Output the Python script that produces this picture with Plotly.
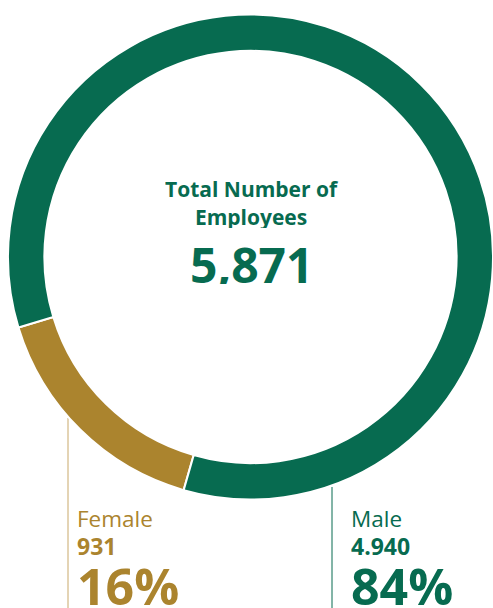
import plotly.graph_objects as go

# Workforce split by gender
labels = ["Female", "Male"]
values = [931, 4940]
value_text = ["931", "4.940"]
colors = ["#AB842E", "#076B50"]
line_colors = ["#C9A96A", "#076B50"]

W, H = 493, 608
FONT = "Open Sans"

total = sum(values)
shares = [round(v / total * 100) for v in values]

fig = go.Figure()
fig.add_trace(go.Pie(
    labels=labels,
    values=values,
    hole=0.85,
    sort=False,
    direction="clockwise",
    rotation=196,
    marker=dict(colors=colors, line=dict(color="white", width=2)),
    textinfo="none",
    hoverinfo="skip",
    showlegend=False,
    domain=dict(x=[8 / W, 1], y=[1 - 500 / H, 1 - 14 / H]),
))


def py(pix):
    return 1 - pix / H


annotations = [
    dict(x=252 / W, y=py(203), text="<b>Total Number of<br>Employees</b>", size=21, color=colors[1],
         xanchor="center", height=50),
    dict(x=251 / W, y=py(264), text=f"<b>{total:,}</b>", size=48, color=colors[1], xanchor="center",
         height=40),
]

label_x = [75, 349]
line_x = [68, 332]
line_top = [418, 487]
for i in range(2):
    annotations += [
        dict(x=label_x[i] / W, y=py(518), text=labels[i], size=22.5, color=colors[i],
             xanchor="left", height=22),
        dict(x=label_x[i] / W, y=py(546), text=f"<b>{value_text[i]}</b>", size=23, color=colors[i],
             xanchor="left", height=22),
        dict(x=label_x[i] / W, y=py(586), text=f"<b>{shares[i]}%</b>", size=50, color=colors[i],
             xanchor="left", height=40),
    ]
    fig.add_shape(type="line", xref="paper", yref="paper",
                  x0=line_x[i] / W, x1=line_x[i] / W, y0=py(line_top[i]), y1=0,
                  line=dict(color=line_colors[i], width=1), layer="below")

for a in annotations:
    fig.add_annotation(x=a["x"], y=a["y"], xref="paper", yref="paper",
                       text=a["text"], showarrow=False, xanchor=a["xanchor"], yanchor="middle",
                       height=a.get("height"),
                       font=dict(family=FONT, size=a["size"], color=a["color"]))

fig.update_layout(
    width=W, height=H,
    margin=dict(l=0, r=0, t=0, b=0),
    paper_bgcolor="white", plot_bgcolor="white",
    hovermode=False,
)

fig.write_html("out.html")
